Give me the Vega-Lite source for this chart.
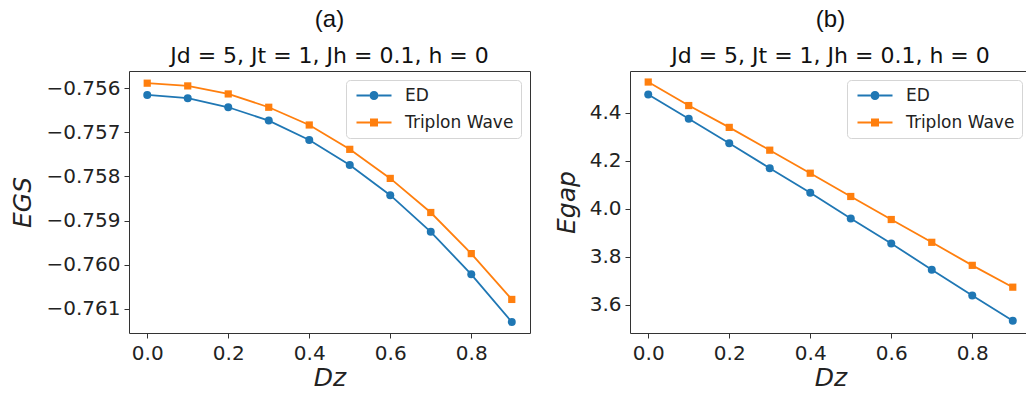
{
  "$schema": "https://vega.github.io/schema/vega-lite/v6.json",
  "padding": {"left": 10, "top": 7, "right": 0, "bottom": 0},
  "background": "white",
  "spacing": 22,
  "config": {
    "font": "DejaVu Sans",
    "view": {"stroke": "#333333", "strokeWidth": 1},
    "axis": {"domain": false, "grid": false, "tickColor": "#333333", "tickSize": 5, "tickWidth": 1, "labelFontSize": 20, "labelColor": "#222222", "labelPadding": 5, "titleFontSize": 25, "titleFontWeight": "normal", "titleFontStyle": "italic", "titleColor": "#222222"},
    "axisY": {"titlePadding": 10, "labelPadding": 4},
    "axisX": {"titlePadding": 2},
    "title": {"fontSize": 24, "font": "Liberation Sans", "fontWeight": "normal", "color": "#111111", "subtitleFontSize": 22, "subtitleFont": "DejaVu Sans", "subtitleFontStyle": "normal", "subtitleColor": "#111111", "subtitlePadding": 14, "offset": 0, "anchor": "middle"},
    "legend": {"orient": "top-right", "offset": 9, "title": null, "labelFontSize": 17, "labelFont": "DejaVu Sans", "labelColor": "#222222", "symbolSize": 100, "symbolStrokeWidth": 0, "symbolOpacity": 1, "labelOffset": 35, "rowPadding": 9, "padding": 7, "strokeColor": "#d5d5d5", "fillColor": "rgba(255,255,255,0.85)", "cornerRadius": 4}
  },
  "resolve": {"scale": {"color": "independent"}, "legend": {"color": "independent"}},
  "datasets": {
    "a": [
      {"Dz": 0.0, "E": -0.756152, "method": "ED"},
      {"Dz": 0.1, "E": -0.756227, "method": "ED"},
      {"Dz": 0.2, "E": -0.756432, "method": "ED"},
      {"Dz": 0.3, "E": -0.756734, "method": "ED"},
      {"Dz": 0.4, "E": -0.757175, "method": "ED"},
      {"Dz": 0.5, "E": -0.757743, "method": "ED"},
      {"Dz": 0.6, "E": -0.758425, "method": "ED"},
      {"Dz": 0.7, "E": -0.759257, "method": "ED"},
      {"Dz": 0.8, "E": -0.760220, "method": "ED"},
      {"Dz": 0.9, "E": -0.761302, "method": "ED"},
      {"Dz": 0.0, "E": -0.755886, "method": "Triplon Wave"},
      {"Dz": 0.1, "E": -0.755948, "method": "Triplon Wave"},
      {"Dz": 0.2, "E": -0.756130, "method": "Triplon Wave"},
      {"Dz": 0.3, "E": -0.756432, "method": "Triplon Wave"},
      {"Dz": 0.4, "E": -0.756834, "method": "Triplon Wave"},
      {"Dz": 0.5, "E": -0.757386, "method": "Triplon Wave"},
      {"Dz": 0.6, "E": -0.758045, "method": "Triplon Wave"},
      {"Dz": 0.7, "E": -0.758818, "method": "Triplon Wave"},
      {"Dz": 0.8, "E": -0.759750, "method": "Triplon Wave"},
      {"Dz": 0.9, "E": -0.760789, "method": "Triplon Wave"}
    ],
    "b": [
      {"Dz": 0.0, "E": 4.477, "method": "ED"},
      {"Dz": 0.1, "E": 4.376, "method": "ED"},
      {"Dz": 0.2, "E": 4.274, "method": "ED"},
      {"Dz": 0.3, "E": 4.170, "method": "ED"},
      {"Dz": 0.4, "E": 4.068, "method": "ED"},
      {"Dz": 0.5, "E": 3.960, "method": "ED"},
      {"Dz": 0.6, "E": 3.856, "method": "ED"},
      {"Dz": 0.7, "E": 3.747, "method": "ED"},
      {"Dz": 0.8, "E": 3.639, "method": "ED"},
      {"Dz": 0.9, "E": 3.534, "method": "ED"},
      {"Dz": 0.0, "E": 4.529, "method": "Triplon Wave"},
      {"Dz": 0.1, "E": 4.431, "method": "Triplon Wave"},
      {"Dz": 0.2, "E": 4.340, "method": "Triplon Wave"},
      {"Dz": 0.3, "E": 4.245, "method": "Triplon Wave"},
      {"Dz": 0.4, "E": 4.149, "method": "Triplon Wave"},
      {"Dz": 0.5, "E": 4.052, "method": "Triplon Wave"},
      {"Dz": 0.6, "E": 3.956, "method": "Triplon Wave"},
      {"Dz": 0.7, "E": 3.861, "method": "Triplon Wave"},
      {"Dz": 0.8, "E": 3.765, "method": "Triplon Wave"},
      {"Dz": 0.9, "E": 3.674, "method": "Triplon Wave"}
    ]
  },
  "hconcat": [
    {
      "width": 401,
      "height": 262,
      "title": {"text": "(a)", "subtitle": "Jd = 5, Jt = 1, Jh = 0.1, h = 0"},
      "data": {"name": "a"},
      "encoding": {
        "x": {"field": "Dz", "type": "quantitative", "scale": {"domain": [-0.045, 0.945], "nice": false, "zero": false}, "axis": {"values": [0, 0.2, 0.4, 0.6, 0.8], "format": ".1f", "title": "Dz"}},
        "y": {"field": "E", "type": "quantitative", "scale": {"domain": [-0.76155, -0.75561], "nice": false, "zero": false}, "axis": {"values": [-0.756, -0.757, -0.758, -0.759, -0.76, -0.761], "format": ".3f", "title": "EGS"}},
        "color": {"field": "method", "type": "nominal", "scale": {"domain": ["ED", "Triplon Wave"], "range": ["#1f77b4", "#ff7f0e"]},
          "legend": {"symbolType": {"expr": "datum.value === 'ED' ? 'M-1,-0.2L1.6,-0.2L1.6,0.2L-1,0.2Z M3.4,-0.2L6,-0.2L6,0.2L3.4,0.2Z M1.6,0A0.9,0.9,0,1,1,3.4,0A0.9,0.9,0,1,1,1.6,0Z' : 'M-1,-0.2L6,-0.2L6,0.2L-1,0.2Z M1.7,-0.8L3.3,-0.8L3.3,0.8L1.7,0.8Z'"}}
        }
      },
      "layer": [
        {"mark": {"type": "line", "strokeWidth": 1.8}},
        {"transform": [{"filter": "datum.method === 'ED'"}], "mark": {"type": "point", "filled": true, "opacity": 1, "size": 64, "shape": "circle"}},
        {"transform": [{"filter": "datum.method === 'Triplon Wave'"}], "mark": {"type": "point", "filled": true, "opacity": 1, "size": 52, "shape": "square"}}
      ]
    },
    {
      "width": 401,
      "height": 262,
      "title": {"text": "(b)", "subtitle": "Jd = 5, Jt = 1, Jh = 0.1, h = 0"},
      "data": {"name": "b"},
      "encoding": {
        "x": {"field": "Dz", "type": "quantitative", "scale": {"domain": [-0.045, 0.945], "nice": false, "zero": false}, "axis": {"values": [0, 0.2, 0.4, 0.6, 0.8], "format": ".1f", "title": "Dz"}},
        "y": {"field": "E", "type": "quantitative", "scale": {"domain": [3.483, 4.575], "nice": false, "zero": false}, "axis": {"values": [3.6, 3.8, 4.0, 4.2, 4.4], "format": ".1f", "title": "Egap"}},
        "color": {"field": "method", "type": "nominal", "scale": {"domain": ["ED", "Triplon Wave"], "range": ["#1f77b4", "#ff7f0e"]},
          "legend": {"symbolType": {"expr": "datum.value === 'ED' ? 'M-1,-0.2L1.6,-0.2L1.6,0.2L-1,0.2Z M3.4,-0.2L6,-0.2L6,0.2L3.4,0.2Z M1.6,0A0.9,0.9,0,1,1,3.4,0A0.9,0.9,0,1,1,1.6,0Z' : 'M-1,-0.2L6,-0.2L6,0.2L-1,0.2Z M1.7,-0.8L3.3,-0.8L3.3,0.8L1.7,0.8Z'"}}
        }
      },
      "layer": [
        {"mark": {"type": "line", "strokeWidth": 1.8}},
        {"transform": [{"filter": "datum.method === 'ED'"}], "mark": {"type": "point", "filled": true, "opacity": 1, "size": 64, "shape": "circle"}},
        {"transform": [{"filter": "datum.method === 'Triplon Wave'"}], "mark": {"type": "point", "filled": true, "opacity": 1, "size": 52, "shape": "square"}}
      ]
    }
  ]
}
